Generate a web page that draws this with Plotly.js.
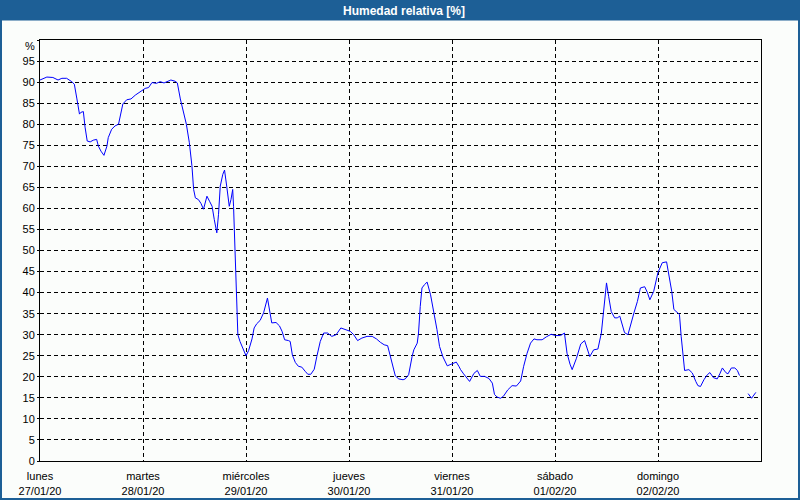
<!DOCTYPE html>
<html>
<head>
<meta charset="utf-8">
<script src="https://cdn.plot.ly/plotly-3.0.1.min.js"></script>
<style>
  html, body { margin: 0; padding: 0; background: #ffffff; }
  #chart { width: 800px; height: 500px; }
</style>
</head>
<body>
<div id="chart"></div>
<script>
// ---- Data ----
const startDate = '2020-01-27T00:00:00Z';
const tickDates = ['2020-01-27', '2020-01-28', '2020-01-29', '2020-01-30', '2020-01-31', '2020-02-01', '2020-02-02'];
const dayNames = ['lunes', 'martes', 'miércoles', 'jueves', 'viernes', 'sábado', 'domingo'];
const dayLabels = ['27/01/20', '28/01/20', '29/01/20', '30/01/20', '31/01/20', '01/02/20', '02/02/20'];
const yTickValues = [0, 5, 10, 15, 20, 25, 30, 35, 40, 45, 50, 55, 60, 65, 70, 75, 80, 85, 90, 95, 100];
const yTickLabels = ['0', '5', '10', '15', '20', '25', '30', '35', '40', '45', '50', '55', '60', '65', '70', '75', '80', '85', '90', '95', ''];
const yUnitLabel = '%';

// hours since 27/01/20 00:00
const hours = [
  0, 1.6, 3.0, 4.2, 5.1, 6.2, 7.4, 8.0, 8.6, 9.2, 9.5, 10.1, 10.5, 11.0, 11.7, 12.4, 13.2, 13.6, 14.2, 14.9,
  15.6, 15.9, 16.7, 17.5, 18.3, 18.8, 19.3, 20.2, 21.2, 22.2, 23.3, 24.5, 25.3, 26.1, 27.1, 28.0, 28.9, 29.7,
  30.5, 31.5, 32.0, 32.7, 33.4, 34.1, 34.8, 35.4, 35.8, 36.2, 36.9, 37.5, 38.1, 38.9, 39.5, 40.1, 40.6, 41.2,
  41.6, 42.0, 42.6, 43.0, 43.5, 44.1, 44.5, 44.9, 45.1, 45.4, 45.7, 45.9, 46.1, 46.6, 47.4, 48.0, 48.6, 49.4,
  49.9, 50.5, 51.3, 52.1, 53.0, 53.5, 54.0, 55.0, 55.8, 56.4, 57.0, 57.9, 58.3, 58.8, 59.5, 60.2, 61.0, 61.8,
  62.4, 63.1, 63.9, 64.5, 65.3, 66.1, 67.0, 68.0, 69.0, 70.1, 71.4, 72.3, 73.1, 74.0, 75.0, 76.2, 77.4, 78.4,
  79.3, 80.2, 81.0, 81.6, 82.3, 82.8, 83.6, 84.6, 85.1, 85.9, 86.7, 87.1, 87.9, 88.2, 88.6, 89.0, 89.6, 90.2,
  91.0, 91.7, 92.5, 93.1, 93.9, 94.9, 95.8, 97.0, 97.6, 98.0, 98.7, 100.1, 101.1, 101.9, 102.6, 103.6, 104.6,
  105.4, 105.9, 106.5, 107.3, 108.0, 109.0, 110.0, 111.0, 112.0, 112.7, 113.5, 114.3, 115.1, 115.8, 117.0,
  118.0, 119.1, 120.1, 121.3, 122.2, 122.8, 123.5, 124.0, 125.0, 126.0, 126.9, 127.5, 128.1, 129.0, 130.0,
  130.8, 131.4, 132.0, 132.5, 133.1, 133.9, 134.5, 135.1, 135.7, 136.2, 137.0, 137.6, 138.4, 139.2, 139.9,
  140.9, 141.5, 142.1, 143.0, 144.0, 145.0, 146.0, 146.5, 147.2, 147.7, 148.3, 149.0, 149.4, 149.9, 150.2,
  151.2, 152.0, 152.8, 153.3, 153.9, 154.7, 155.5, 156.1, 156.9, 157.8, 158.4, 159.0, 159.8, 160.3, 161.1,
  161.9, 162.5, 163.0, 164.0, 165.0, 165.8, 166.8
];
const humidity = [
  90.5, 91.2, 91.1, 90.5, 90.9, 90.9, 90.1, 89.5, 86.0, 82.4, 82.8, 83.0, 79.3, 76.0, 75.8, 76.2, 76.4, 74.8, 73.6, 72.6,
  74.8, 76.8, 78.8, 79.6, 80.0, 82.4, 84.8, 85.8, 86.0, 86.9, 87.7, 88.5, 88.7, 89.9, 89.7, 90.1, 89.8, 90.2,
  90.5, 90.2, 89.8, 86.0, 82.8, 80.0, 75.6, 70.1, 64.5, 62.5, 62.1, 61.2, 59.8, 62.9, 61.7, 60.5, 57.4, 54.2,
  58.6, 65.3, 68.1, 69.1, 65.3, 60.5, 62.1, 64.5, 60.5, 51.8, 43.1, 34.4, 30.0, 28.4, 26.6, 25.0, 26.2, 29.0,
  31.6, 32.6, 33.4, 35.2, 38.7, 35.5, 32.8, 32.9, 32.1, 30.8, 28.8, 28.6, 28.4, 25.2, 23.4, 22.5, 22.3, 21.3,
  20.6, 20.6, 21.8, 24.8, 28.4, 30.4, 30.4, 29.6, 30.0, 31.6, 31.2, 30.8, 30.0, 28.6, 29.2, 29.6, 29.6, 29.0,
  28.2, 27.6, 27.4, 24.8, 22.1, 20.2, 19.5, 19.3, 19.5, 20.5, 24.8, 26.4, 28.0, 30.4, 36.7, 41.1, 41.9, 42.5,
  39.5, 36.0, 31.2, 27.2, 24.7, 22.6, 23.0, 23.5, 22.5, 21.7, 20.7, 18.9, 20.8, 21.5, 20.1, 20.1, 19.6,
  18.5, 15.8, 15.2, 14.9, 15.4, 16.9, 17.9, 17.8, 19.0, 22.5, 25.6, 28.0, 29.0, 28.8, 28.8,
  29.5, 30.1, 29.8, 29.8, 30.4, 25.6, 23.0, 21.7, 24.4, 27.8, 28.6, 26.8, 24.8, 26.4, 26.6,
  30.4, 36.7, 42.3, 39.1, 35.5, 34.0, 34.0, 34.4, 32.4, 30.5, 30.0, 32.4, 35.2, 37.9, 41.1,
  41.4, 40.1, 38.3, 40.3, 44.8, 47.1, 47.3, 44.7, 40.3, 36.0, 35.5, 34.8, 29.6, 24.0, 21.5,
  21.7, 20.9, 18.9, 17.9, 17.7, 19.3, 20.5, 21.0, 19.8, 19.5, 20.7, 22.1, 21.0, 20.7, 22.1,
  22.1, 21.5, 20.3, null, 16.0, 14.9, 16.3
];

// ---- Build ----
const t0 = Date.parse(startDate);
function fmt(ms) { return new Date(ms).toISOString().slice(0, 19).replace('T', ' '); }
const times = hours.map(h => fmt(t0 + h * 3600000));
const tickText = dayNames.map((d, i) => d + '<br>' + dayLabels[i]);

const W = 800, H = 500;
const M = { l: 40, r: 39, t: 40, b: 39 };
const pw = W - M.l - M.r, ph = H - M.t - M.b;
const px2x = px => (px - M.l) / pw;
const py2y = py => (H - M.b - py) / ph;

const blue = '#1d5f96';
const font = { family: 'Liberation Sans, Arial, sans-serif', size: 11, color: '#000000' };

const trace = {
  x: times,
  y: humidity,
  type: 'scatter',
  mode: 'lines',
  line: { color: '#0000ff', width: 1 },
  connectgaps: false,
  hoverinfo: 'skip'
};

const layout = {
  width: W, height: H,
  margin: M,
  paper_bgcolor: '#fbfdfb',
  plot_bgcolor: '#fbfdfb',
  showlegend: false,
  font: font,
  title: {
    text: '<b>Humedad relativa [%]</b>',
    font: { family: 'Liberation Sans, Arial, sans-serif', size: 12, color: '#ffffff' },
    x: 0.505, xanchor: 'center', xref: 'container',
    y: 1 - 10.5 / H, yanchor: 'middle', yref: 'container'
  },
  xaxis: {
    type: 'date',
    range: ['2020-01-27 00:00:00', '2020-02-03 00:00:00'],
    tickmode: 'array',
    tickvals: tickDates,
    ticktext: tickText,
    showgrid: true,
    gridcolor: '#000000',
    gridwidth: 1,
    griddash: '4px,3px',
    showline: true, linecolor: '#000000', linewidth: 1, mirror: true,
    ticks: 'outside', ticklen: 4, tickcolor: 'rgba(0,0,0,0)',
    ticklabelstandoff: 1,
    zeroline: false,
    tickfont: font,
    fixedrange: true
  },
  yaxis: {
    range: [0, 100],
    tickmode: 'array',
    tickvals: yTickValues,
    ticktext: yTickLabels,
    showgrid: true,
    gridcolor: '#000000',
    gridwidth: 1,
    griddash: '4px,3px',
    showline: true, linecolor: '#000000', linewidth: 1, mirror: true,
    ticks: 'outside', ticklen: 2, tickcolor: '#000000',
    zeroline: false,
    tickfont: font,
    fixedrange: true
  },
  annotations: [
    { text: yUnitLabel, xref: 'paper', yref: 'paper', x: px2x(37), y: py2y(46),
      xanchor: 'right', yanchor: 'middle', showarrow: false, font: font }
  ],
  shapes: [
    { type: 'rect', xref: 'paper', yref: 'paper', layer: 'above',
      x0: px2x(0), x1: px2x(W), y0: py2y(20.5), y1: py2y(0),
      fillcolor: blue, line: { width: 0 } },
    { type: 'rect', xref: 'paper', yref: 'paper', layer: 'above',
      x0: px2x(1), x1: px2x(W - 1), y0: py2y(H - 1), y1: py2y(1),
      fillcolor: 'rgba(0,0,0,0)', line: { color: blue, width: 2 } }
  ]
};

Plotly.newPlot('chart', [trace], layout, { displayModeBar: false, staticPlot: true });
</script>
</body>
</html>
